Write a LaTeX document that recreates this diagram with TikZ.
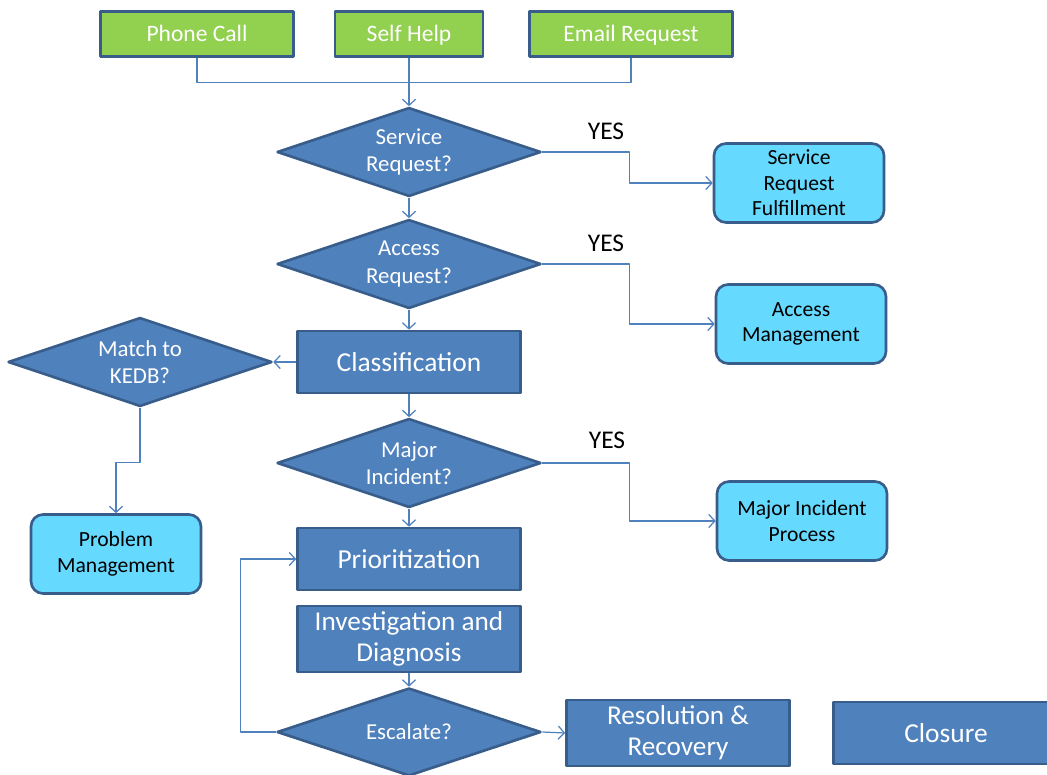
\documentclass[tikz,border=0pt]{standalone}
\usepackage{fontspec}
\setmainfont{Carlito}
\usepackage{tikz}
\usetikzlibrary{arrows.meta}
\usetikzlibrary{shapes.geometric}
\definecolor{srcgreen}{RGB}{146,208,80}
\definecolor{stepblue}{RGB}{79,129,189}
\definecolor{edgeblue}{RGB}{56,93,138}
\definecolor{outcyan}{RGB}{102,217,255}

\tikzset{
	inbox/.style={draw=edgeblue, line width=1.5pt, fill=srcgreen, text=white, minimum width=3.86cm, minimum height=0.9cm, text height=2.1ex, text depth=0.3ex, font=\fontsize{13.4}{16}\selectfont},
	stepbox/.style={draw=edgeblue, line width=1.5pt, fill=stepblue, text=white, minimum width=4.46cm, minimum height=1.24cm, align=center, font=\fontsize{15.6}{18}\selectfont},
	decision/.style={diamond, aspect=3, inner sep=0pt, draw=edgeblue, line width=1.5pt, fill=stepblue, text=white, minimum width=5.28cm, minimum height=1.78cm, align=center, font=\fontsize{13}{15.5}\selectfont},
	outbox/.style={draw=edgeblue, line width=1.5pt, fill=outcyan, rounded corners=0.24cm, minimum width=3.4cm, minimum height=1.58cm, align=center, font=\fontsize{12.3}{14.5}\selectfont},
	conn/.style={draw=stepblue, line width=0.7pt},
	arr/.style={conn, -{Straight Barb[length=3.5pt, width=7.5pt]}}
}

\begin{document}
\begin{tikzpicture}[line join=round, x=0.02cm, y=-0.02cm]
						\useasboundingbox (0,0) rectangle (1047,774);
						% sources
						\node[inbox] (phone) at (197,34) {Phone Call};
						\node[inbox, minimum width=2.96cm] (selfhelp) at (409,34) {Self Help};
						\node[inbox, minimum width=4.06cm] (email) at (631,34) {Email Request};
						% main column
						\node[decision] (srq) at (409,152) {Service\\Request?};
						\node[decision] (arq) at (409,264) {Access\\Request?};
						\node[stepbox] (classif) at (409,362) {Classification};
						\node[decision] (major) at (409,463) {Major\\Incident?};
						\node[stepbox] (prio) at (409,559) {Prioritization};
						\node[stepbox, font=\fontsize{15.5}{17.6}\selectfont] (invest) at (409,639) {Investigation and\\Diagnosis};
						\node[decision, minimum height=1.76cm] (escal) at (409,732) {Escalate?};
						\node[stepbox, font=\fontsize{15.5}{17.6}\selectfont] (resol) at (678,733) {Resolution \&\\Recovery};
						\node[stepbox, minimum width=4.5cm] (closure) at (946,733) {Closure};
						% side branches
						\node[decision] (kedb) at (140,362) {Match to\\KEDB?};
						\node[outbox] (probmgmt) at (116,554) {Problem\\Management};
						\node[outbox] (srf) at (799,183) {Service\\Request\\Fulfillment};
						\node[outbox] (accmgmt) at (801,324) {Access\\Management};
						\node[outbox] (mip) at (802,521) {Major Incident\\Process};
						% labels
						\node[font=\fontsize{14.5}{17}\selectfont] (yes1) at (606,131) {YES};
						\node[font=\fontsize{14.5}{17}\selectfont] (yes2) at (606,243) {YES};
						\node[font=\fontsize{14.5}{17}\selectfont] (yes3) at (607,440) {YES};
						% connectors
						\draw[conn] (phone.south) -- ++(0,25) -| (email.south);
						\draw[arr] (selfhelp.south) -- (srq.north);
						\draw[arr] (srq.south) -- (arq.north);
						\draw[arr] (arq.south) -- (classif.north);
						\draw[arr] (classif.south) -- (major.north);
						\draw[arr] (major.south) -- (prio.north);
						\draw[arr] (invest.south) -- (escal.north);
						\draw[arr] (escal.east) -- (resol.west);
						\draw[arr] (escal.west) -- ++(-35,0) |- (prio.west);
						\draw[arr] (classif.west) -- (kedb.east);
						\draw[arr] (kedb.south) -- ++(0,55) -| (probmgmt.north);
						\draw[arr] (srq.east) -- ++(87,0) |- (srf.west);
						\draw[arr] (arq.east) -- ++(87,0) |- (accmgmt.west);
						\draw[arr] (major.east) -- ++(87,0) |- (mip.west);
					\end{tikzpicture}
\end{document}
